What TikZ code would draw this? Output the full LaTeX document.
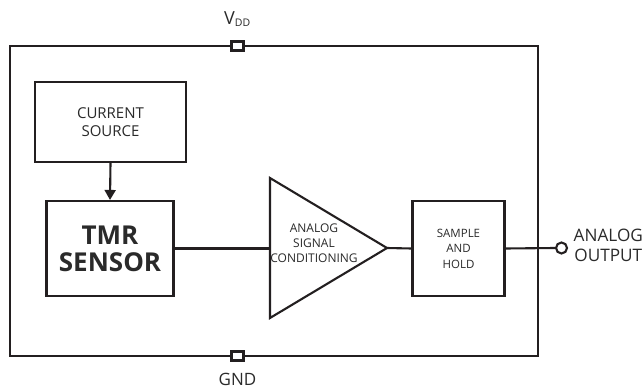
\documentclass[tikz,border=0pt]{standalone}
\usepackage{fontspec}
\setmainfont{Open Sans}
\usetikzlibrary{arrows.meta}
\begin{document}
\begin{tikzpicture}[x=1pt,y=-1pt,
  line/.style={draw=ink,line width=2.1pt},
  blk/.style={draw=ink,line width=2.1pt,fill=white,inner sep=0pt,align=center,text=txt},
  pad/.style={draw=ink,line width=2.1pt,fill=white,minimum width=12pt,minimum height=9pt,inner sep=0pt},
  lbl/.style={text=txt,inner sep=0pt,align=center}]
\definecolor{ink}{HTML}{231F20}
\definecolor{txt}{HTML}{2A2A2A}
\useasboundingbox (0,0) rectangle (644,390);
\fill[white] (0,0) rectangle (644,390);
\draw[line] (10,46) rectangle (538,356);
\node[pad] (vdd) at (237.5,46) {};
\node[pad] (gnd) at (237.5,356) {};
\node[lbl,font=\fontsize{18}{18}\selectfont] (vddl) at (237.5,19) {V\textsubscript{\fontsize{10.5}{10}\selectfont DD}};
\node[lbl,font=\fontsize{17}{17}\selectfont] (gndl) at (237.5,379.5) {GND};
\node[blk,minimum width=151pt,minimum height=80pt,font=\fontsize{15}{18.5}\selectfont] (cs) at (110.5,122) {CURRENT\\SOURCE};
\node[blk,minimum width=127pt,minimum height=95pt,font=\fontsize{26}{27}\bfseries\selectfont] (tmr) at (110,248.5) {TMR\\SENSOR};
\coordinate (ta) at (270,178);
\coordinate (tb) at (270,318);
\coordinate (tip) at (387,248);
\draw[line,fill=white,line join=miter] (ta) -- (tip) -- (tb) -- cycle;
\node[lbl,font=\fontsize{12}{15}\selectfont] (asc) at (314,243) {ANALOG\\SIGNAL\\CONDITIONING};
\node[blk,minimum width=92pt,minimum height=95pt,font=\fontsize{11.5}{15.5}\selectfont] (sh) at (458.5,248.5) {SAMPLE\\AND\\HOLD};
\draw[line,-{Triangle[length=10pt,width=11pt]}] (cs.south) -- (tmr.north);
\draw[line] (tmr.east) -- (tmr.east -| ta);
\draw[line] (tip) -- (sh.west);
\node[draw=ink,line width=2.1pt,circle,minimum size=11pt,inner sep=0pt] (out) at (561.5,248) {};
\draw[line] (sh.east) -- (out.west);
\node[lbl,anchor=west,font=\fontsize{17.2}{20}\selectfont] (outl) at (573.5,245) {ANALOG\\OUTPUT};
\end{tikzpicture}
\end{document}
